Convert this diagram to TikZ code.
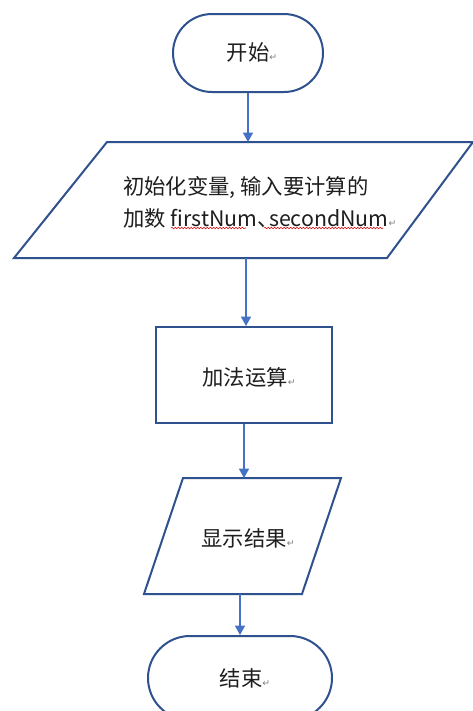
\documentclass[tikz,border=0pt]{standalone}
\usepackage{fontspec}
\setmainfont{Noto Sans CJK SC}
\newfontfamily\symfont{DejaVu Sans}
\usetikzlibrary{shapes.misc,arrows.meta,decorations.pathmorphing}
\definecolor{outl}{RGB}{47,82,143}
\definecolor{conn}{RGB}{68,114,196}
\definecolor{txt}{RGB}{30,30,30}
\newcommand{\parmark}{{\symfont\fontsize{7}{7}\selectfont\textcolor{gray}{↵}}}
\tikzset{
  shapeline/.style={draw=outl,line width=1.5pt,fill=white},
  termbox/.style={shapeline,rounded rectangle,inner sep=0pt},
  procbox/.style={shapeline,rectangle,inner sep=0pt},
  label/.style={text=txt,font=\fontsize{16}{24}\selectfont,inner sep=0pt},
  spellwave/.style={draw=red!85!black,line width=0.4pt,decorate,decoration={snake,amplitude=0.6pt,segment length=2.4pt}},
  connector/.style={draw=conn,line width=1pt,-{Triangle[length=7pt,width=7.5pt]}}
}
\begin{document}
\begin{tikzpicture}[x=0.75pt,y=-0.75pt]
\fill[white] (0,0) rectangle (473,711);
\useasboundingbox (0,0) rectangle (473,711);
% start
\node[termbox,minimum width=112.5pt,minimum height=58.5pt] (start) at (248,53) {};
\node[label] (starttxt) at (252,52) {开始\parmark};
% input parallelogram
\draw[shapeline] (107,142) -- (473,142) -- (387,258) -- (14,258) -- cycle;
\coordinate (in1n) at (248,142);
\coordinate (in1s) at (246,258);
\node[label,align=left,anchor=west] (intxt) at (123,202) {初始化变量, 输入要计算的\\加数 firstNum、\kern-0.45em secondNum\parmark};
\coordinate (w1a) at (171,228);
\coordinate (w1b) at (246,228);
\coordinate (w2a) at (264,228);
\coordinate (w2b) at (383,228);
\draw[spellwave] (w1a) -- (w1b);
\draw[spellwave] (w2a) -- (w2b);
% process
\node[procbox,minimum width=132pt,minimum height=72pt] (calc) at (244,375) {};
\node[label] (calctxt) at (249,377) {加法运算\parmark};
% output parallelogram
\draw[shapeline] (183,478) -- (341,478) -- (302,594) -- (144,594) -- cycle;
\coordinate (out1n) at (244,478);
\coordinate (out1s) at (240,594);
\node[label] (outtxt) at (248,538) {显示结果\parmark};
% end
\begin{scope}
\clip (0,0) rectangle (473,711);
\node[termbox,minimum width=138pt,minimum height=63pt] (end) at (240,678) {};
\end{scope}
\node[label] (endtxt) at (245,678) {结束\parmark};
% connectors
\draw[connector] (start.south) -- (in1n);
\draw[connector] (in1s) -- (in1s |- calc.north);
\draw[connector] (calc.south) -- (out1n);
\draw[connector] (out1s) -- (end.north);
\end{tikzpicture}
\end{document}
